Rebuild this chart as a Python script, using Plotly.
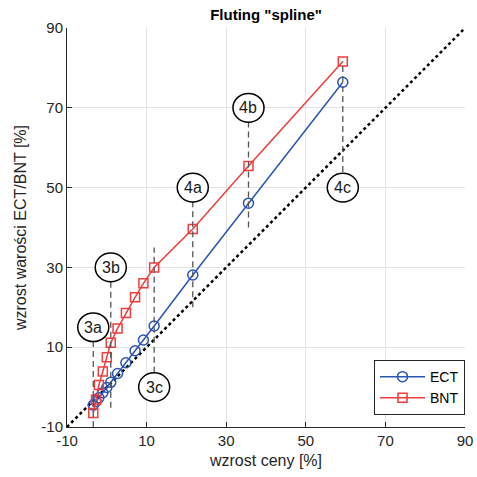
import plotly.graph_objects as go

# ---- data ----
x_ect = [-3.4, -2.7, -2.0, -1.0, 0.0, 1.0, 2.7, 4.8, 7.1, 9.2, 11.9, 21.6, 35.6, 59.3]
y_ect = [-4.5, -3.6, -2.7, -1.4, -0.1, 1.2, 3.4, 6.1, 9.1, 11.8, 15.3, 28.1, 46.1, 76.4]
x_bnt = [-3.4, -2.7, -2.0, -1.0, 0.0, 1.0, 2.7, 4.8, 7.1, 9.2, 11.9, 21.6, 35.6, 59.3]
y_bnt = [-6.5, -3.2, 0.5, 3.9, 7.5, 11.1, 14.7, 18.6, 22.5, 26.0, 30.0, 39.6, 55.4, 81.6]

label_text = ["3a", "3b", "3c", "4a", "4b", "4c"]
label_x = [-3.4, 1.0, 11.9, 21.6, 35.6, 59.3]
label_y = [15, 30, 0, 50, 70, 50]
guide_y0 = [-10, -5.2, 3.6, 20, 40, 53.9]
guide_y1 = [11.4, 26.4, 35, 46.4, 66.4, 81.6]

diag = [-10, 90]
ticks = [-10, 10, 30, 50, 70, 90]

BLUE = "#2B55B2"
RED = "#F03C3C"

fig = go.Figure()
fig.add_trace(go.Scatter(x=diag, y=diag, mode="lines",
                         line=dict(color="black", width=2.5, dash="dot"),
                         showlegend=False, hoverinfo="skip"))
fig.add_trace(go.Scatter(x=x_ect, y=y_ect, mode="lines+markers", name="ECT",
                         line=dict(color=BLUE, width=1.5),
                         marker=dict(symbol="circle-open", size=10, color=BLUE,
                                     line=dict(width=1.5, color=BLUE))))
fig.add_trace(go.Scatter(x=x_bnt, y=y_bnt, mode="lines+markers", name="BNT",
                         line=dict(color=RED, width=1.5),
                         marker=dict(symbol="square-open", size=9, color=RED,
                                     line=dict(width=1.5, color=RED))))

shapes = []
for lx, a, b in zip(label_x, guide_y0, guide_y1):
    shapes.append(dict(type="line", xref="x", yref="y", x0=lx, x1=lx, y0=a, y1=b,
                       line=dict(color="#555555", width=1.3, dash="6px,4px"),
                       layer="above"))
rx, ry = 3.9, 3.6
for lx, ly in zip(label_x, label_y):
    shapes.append(dict(type="circle", xref="x", yref="y",
                       x0=lx - rx, x1=lx + rx, y0=ly - ry, y1=ly + ry,
                       fillcolor="white", line=dict(color="black", width=1.5),
                       layer="above"))
annotations = []
for t, lx, ly in zip(label_text, label_x, label_y):
    annotations.append(dict(x=lx, y=ly, xref="x", yref="y", text=t, showarrow=False,
                            font=dict(size=16, color="#1a1a1a",
                                      family="Liberation Sans, Arial, sans-serif")))

axis_common = dict(range=[-10, 90], tickvals=ticks, ticktext=[str(t) for t in ticks],
                   showgrid=True, gridcolor="#e3e3e3", gridwidth=1,
                   zeroline=False, showline=True, linecolor="#262626", linewidth=1,
                   ticks="inside", ticklen=5, tickcolor="#262626",
                   tickfont=dict(size=15, color="#262626"), mirror=False,
                   automargin=False)

W, H = 477, 477
fig.update_layout(
    width=W, height=H,
    margin=dict(l=67, r=12, t=28, b=50),
    paper_bgcolor="white", plot_bgcolor="white",
    font=dict(family="Liberation Sans, Arial, sans-serif", color="#262626"),
    title=dict(text="<b>Fluting \"spline\"</b>", x=(67 + W - 12) / 2 / W, xanchor="center",
               y=1 - 15 / H, yanchor="middle", font=dict(size=15, color="black")),
    xaxis=dict(axis_common, title=dict(text="wzrost ceny [%]", font=dict(size=16), standoff=6)),
    yaxis=dict(axis_common, title=dict(text="wzrost warości ECT/BNT [%]", font=dict(size=16), standoff=10)),
    shapes=shapes, annotations=annotations,
    legend=dict(x=1.0, y=0.03, xanchor="right", yanchor="bottom",
                bgcolor="white", bordercolor="#262626", borderwidth=1,
                font=dict(size=14, color="black"), tracegroupgap=0, itemwidth=45),
    showlegend=True,
)

fig.write_html("out.html", config={"displayModeBar": False},
               post_script="document.body.style.margin='0';document.body.style.overflow='hidden';")
